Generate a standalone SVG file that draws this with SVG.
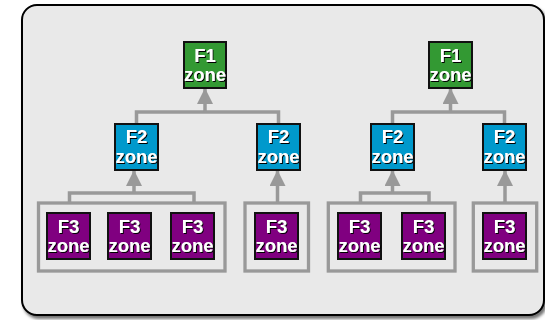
<svg xmlns="http://www.w3.org/2000/svg" width="545" height="320" viewBox="0 0 545 320">
  <defs>
    <filter id="ts" x="-20%" y="-20%" width="140%" height="140%">
      <feDropShadow dx="1" dy="1" stdDeviation="0.3" flood-color="#000" flood-opacity="1"/>
    </filter>
    <filter id="bs" x="-5%" y="-5%" width="110%" height="115%">
      <feDropShadow dx="2" dy="3" stdDeviation="1.5" flood-color="#000" flood-opacity="0.55"/>
    </filter>
    <marker id="ah" markerUnits="userSpaceOnUse" markerWidth="16" markerHeight="16" viewBox="0 0 16 16" refX="15" refY="8" orient="auto">
      <path d="M0 0 L16 8 L0 16 Z" fill="#999"/>
    </marker>
  </defs>
  <style>
    .node rect { stroke: #111; stroke-width: 2; }
    .f1 rect { fill: #339933; }
    .f2 rect { fill: #0099cc; }
    .f3 rect { fill: #800080; }
    .node text { font-family: "Liberation Sans", Arial, sans-serif; font-weight: bold; font-size: 18.5px; fill: #fff; text-anchor: middle; filter: url(#ts); }
    .conn path { fill: none; stroke: #999; stroke-width: 3.5; }
    .grp { fill: none; stroke: #999; stroke-width: 3.3; }
  </style>

  <rect x="22" y="5" width="522" height="310" rx="15" ry="15" fill="#e9e9e9" stroke="#000" stroke-width="2" filter="url(#bs)"/>

  <g id="groups">
    <rect class="grp" x="38.5" y="203" width="186.5" height="68"/>
    <rect class="grp" x="245" y="203" width="63.5" height="68"/>
    <rect class="grp" x="328.3" y="203" width="126.7" height="68"/>
    <rect class="grp" x="473.3" y="203" width="63.4" height="68"/>
  </g>

  <g id="connectors" class="conn">
    <path d="M136.5 124 V112 H278.5 V124"/>
    <path d="M205 112 V89" marker-end="url(#ah)"/>
    <path d="M392.5 124 V112 H504.5 V124"/>
    <path d="M450.5 112 V89" marker-end="url(#ah)"/>
    <path d="M69.5 202 V193 H194 V202"/>
    <path d="M134 193 V171" marker-end="url(#ah)"/>
    <path d="M277.5 202 V171" marker-end="url(#ah)"/>
    <path d="M360.5 202 V193 H429 V202"/>
    <path d="M392.5 193 V171" marker-end="url(#ah)"/>
    <path d="M505 202 V171" marker-end="url(#ah)"/>
  </g>

  <g id="f1-left" class="node f1"><rect x="184" y="42" width="42" height="46"/><text x="205" y="62">F1</text><text x="205" y="81">zone</text></g>
  <g id="f1-right" class="node f1"><rect x="429" y="42" width="43" height="46"/><text x="450.5" y="62">F1</text><text x="450.5" y="81">zone</text></g>

  <g id="f2-a" class="node f2"><rect x="115" y="124" width="43" height="46"/><text x="136.5" y="143">F2</text><text x="136.5" y="163">zone</text></g>
  <g id="f2-b" class="node f2"><rect x="257" y="124" width="43" height="46"/><text x="278.5" y="143">F2</text><text x="278.5" y="163">zone</text></g>
  <g id="f2-c" class="node f2"><rect x="371" y="124" width="43" height="46"/><text x="392.5" y="143">F2</text><text x="392.5" y="163">zone</text></g>
  <g id="f2-d" class="node f2"><rect x="483" y="124" width="43" height="46"/><text x="504.5" y="143">F2</text><text x="504.5" y="163">zone</text></g>

  <g id="f3-a" class="node f3"><rect x="47" y="213" width="43" height="46"/><text x="68.5" y="233">F3</text><text x="68.5" y="252">zone</text></g>
  <g id="f3-b" class="node f3"><rect x="108" y="213" width="43" height="46"/><text x="129.5" y="233">F3</text><text x="129.5" y="252">zone</text></g>
  <g id="f3-c" class="node f3"><rect x="171" y="213" width="43" height="46"/><text x="192.5" y="233">F3</text><text x="192.5" y="252">zone</text></g>
  <g id="f3-d" class="node f3"><rect x="255" y="213" width="43" height="46"/><text x="276.5" y="233">F3</text><text x="276.5" y="252">zone</text></g>
  <g id="f3-e" class="node f3"><rect x="338" y="213" width="43" height="46"/><text x="359.5" y="233">F3</text><text x="359.5" y="252">zone</text></g>
  <g id="f3-f" class="node f3"><rect x="402" y="213" width="43" height="46"/><text x="423.5" y="233">F3</text><text x="423.5" y="252">zone</text></g>
  <g id="f3-g" class="node f3"><rect x="483" y="213" width="43" height="46"/><text x="504.5" y="233">F3</text><text x="504.5" y="252">zone</text></g>
</svg>
